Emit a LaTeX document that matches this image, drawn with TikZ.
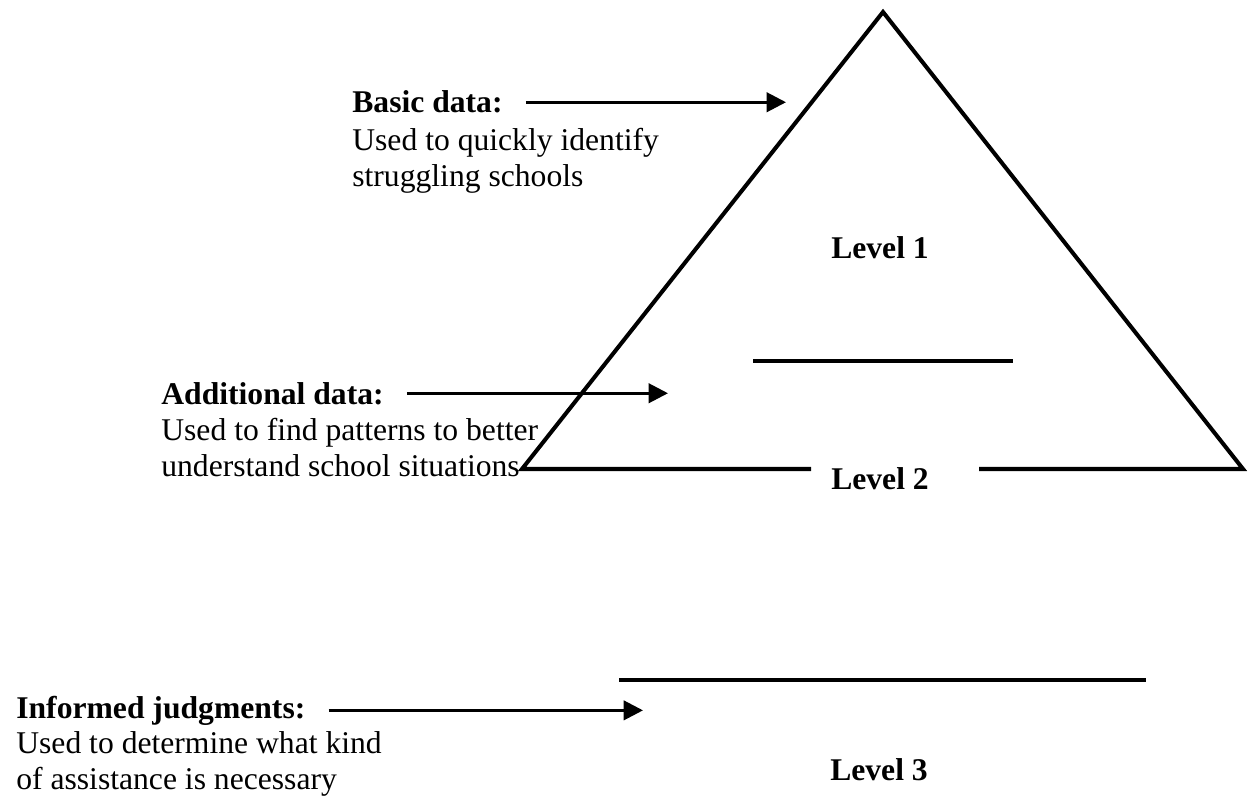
\documentclass[tikz,border=0pt]{standalone}
\usepackage{fontspec}
\setmainfont{Liberation Serif}
\usetikzlibrary{arrows.meta}

\begin{document}
\begin{tikzpicture}[x=0.02cm, y=-0.02cm,
  every node/.style={inner sep=0pt, font=\fontsize{18}{20.5}\selectfont},
  head/.style={anchor=base west, font=\fontsize{18}{20.5}\selectfont\bfseries},
  desc/.style={anchor=north west, align=left},
  level/.style={anchor=base, font=\fontsize{18}{20.5}\selectfont\bfseries},
  pointer/.style={line width=1.7pt, -{Triangle[length=11pt,width=11pt]}, shorten <=13pt}]
\useasboundingbox (0,0) rectangle (1253,800);
% pyramid, bottom edge broken by the level 2 label
\coordinate (apex) at (883,12);
\coordinate (left corner) at (522,469);
\coordinate (right corner) at (1243,469);
\draw[line width=2.3pt, line join=miter] (811,469) -- (left corner) -- (apex) -- (right corner) -- (979,469);
\draw[line width=2.5pt] (753,361) -- (1013,361);
\draw[line width=2.5pt] (619,680) -- (1146,680);
\node[level] (level one) at (880,259) {Level 1};
\node[level] (level two) at (880,489) {Level 2};
\node[level] (level three) at (879,780) {Level 3};
% labels on the left
\node[head] (basic head) at (352,113) {Basic data:};
\node[desc] (basic text) at (352,128) {Used to quickly identify\\struggling schools};
\node[head] (additional head) at (161,404) {Additional data:};
\node[desc] (additional text) at (161,418) {Used to find patterns to better\\understand school situations};
\node[head] (informed head) at (16,718) {Informed judgments:};
\node[desc] (informed text) at (16,731) {Used to determine what kind\\of assistance is necessary};
% arrows into the pyramid
\coordinate (basic tip) at (786,98);
\coordinate (additional tip) at (668,392);
\coordinate (informed tip) at (643,710);
\draw[pointer] (basic head.east) -- (basic head.east -| basic tip);
\draw[pointer] (additional head.east) -- (additional head.east -| additional tip);
\draw[pointer] (informed head.east) -- (informed head.east -| informed tip);
\end{tikzpicture}
\end{document}
